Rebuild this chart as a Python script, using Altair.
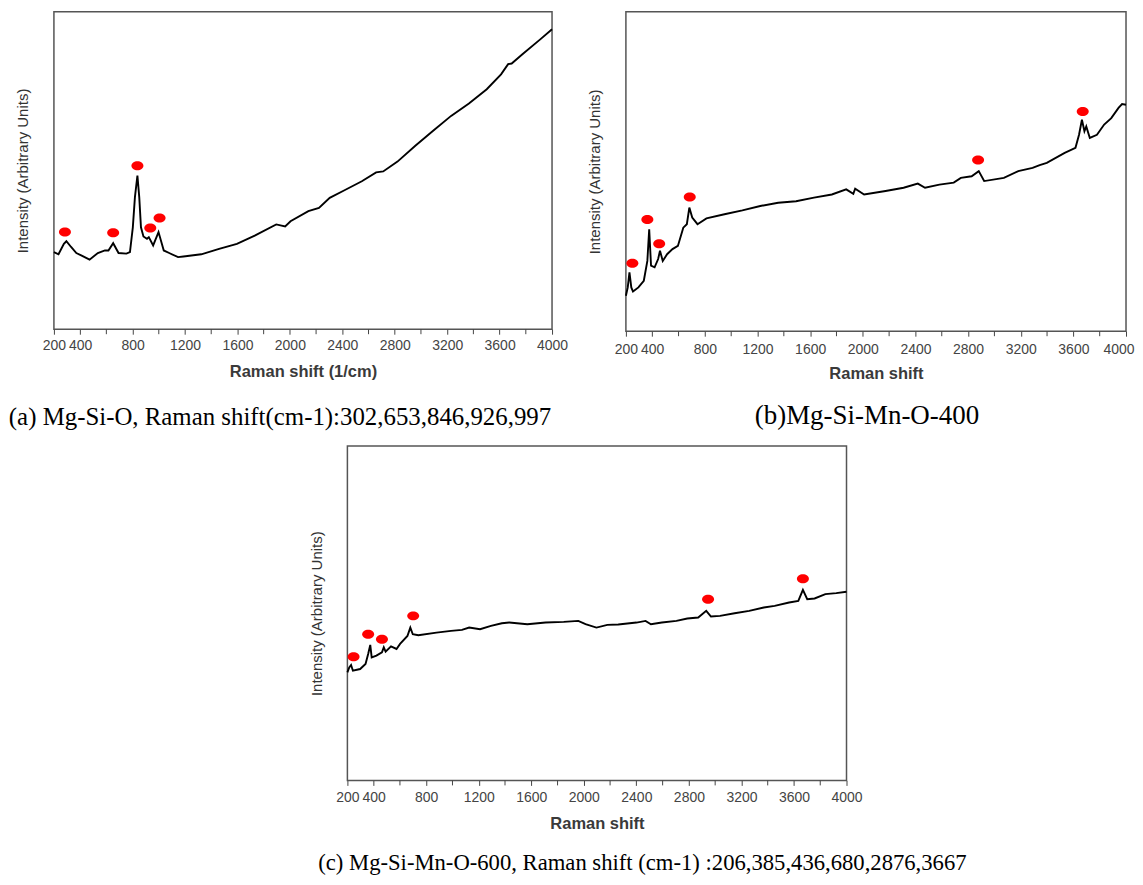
import altair as alt
import pandas as pd

# ---------------- data ----------------
# (a) Mg-Si-O
a_shift = [200, 235, 276, 295, 331, 371, 412, 472, 535, 589, 616, 652, 693, 753, 780,
           802, 818, 837, 851, 864, 883, 910, 924, 957, 998, 1038, 1079, 1147, 1188,
           1324, 1460, 1596, 1732, 1896, 1964, 2005, 2141, 2222, 2304, 2413, 2549,
           2658, 2712, 2821, 2957, 3093, 3230, 3366, 3502, 3611, 3665, 3692, 3774,
           3910, 4000]
a_int = [24.3, 23.6, 26.9, 27.7, 25.9, 24.0, 23.2, 21.9, 24.0, 24.8, 24.8, 27.1, 24.0,
         23.8, 24.3, 32.1, 41.6, 48.4, 41.6, 32.1, 29.2, 28.5, 29.0, 26.4, 30.6, 24.8,
         24.0, 22.7, 22.9, 23.6, 25.3, 26.9, 29.5, 33.0, 32.4, 34.0, 37.2, 38.2, 41.4,
         43.7, 46.6, 49.4, 49.7, 52.8, 57.8, 62.5, 67.2, 71.1, 75.6, 80.3, 83.5, 83.7,
         86.6, 91.3, 94.5]
a_peak_shift = [284, 652, 837, 935, 1006]
a_peak_int = [30.6, 30.4, 51.5, 31.9, 35.0]

# (b) Mg-Si-Mn-O-400
b_shift = [200, 214, 227, 241, 254, 295, 336, 363, 377, 391, 418, 445, 459, 480, 513,
           554, 595, 636, 663, 682, 704, 744, 812, 949, 1085, 1221, 1357, 1493, 1629,
           1765, 1874, 1928, 1942, 2010, 2173, 2310, 2418, 2473, 2582, 2691, 2745,
           2827, 2881, 2922, 3072, 3181, 3290, 3344, 3398, 3534, 3616, 3643, 3665,
           3684, 3698, 3725, 3779, 3834, 3888, 3943, 3970, 4000]
b_int = [11.1, 13.7, 18.4, 13.7, 12.4, 13.7, 15.8, 22.0, 31.9, 20.5, 20.0, 22.6, 25.2,
         22.0, 24.1, 25.7, 26.7, 32.4, 33.5, 38.7, 35.6, 33.5, 35.3, 36.6, 37.8, 39.2,
         40.2, 40.7, 41.8, 42.8, 44.4, 43.0, 44.6, 42.8, 43.9, 44.9, 46.2, 44.9, 45.9,
         46.5, 48.0, 48.5, 50.1, 47.0, 48.0, 50.1, 51.1, 52.0, 52.7, 55.8, 57.4, 61.5,
         66.2, 62.6, 64.1, 60.5, 61.5, 64.7, 66.7, 69.9, 71.1, 70.9]
b_peak_shift = [249, 363, 453, 685, 2876, 3671]
b_peak_int = [21.3, 35.0, 27.4, 42.0, 53.6, 68.8]

# (c) Mg-Si-Mn-O-600
c_shift = [200, 214, 228, 242, 297, 338, 358, 374, 385, 421, 463, 477, 491, 532, 574,
           601, 657, 679, 698, 740, 878, 989, 1072, 1127, 1210, 1293, 1376, 1432, 1570,
           1709, 1847, 1958, 2013, 2096, 2179, 2262, 2401, 2470, 2511, 2594, 2705,
           2788, 2871, 2932, 2968, 3037, 3148, 3259, 3370, 3453, 3563, 3633, 3668,
           3701, 3757, 3839, 3922, 4000]
c_int = [32.3, 33.8, 34.5, 32.8, 33.3, 34.8, 37.8, 40.5, 36.8, 37.3, 38.3, 39.8, 38.5,
         40.1, 39.3, 40.8, 43.2, 45.7, 43.7, 43.4, 44.2, 44.7, 45.0, 45.7, 45.2, 46.2,
         47.0, 47.2, 46.7, 47.2, 47.4, 47.7, 46.7, 45.7, 46.5, 46.6, 47.2, 47.7, 46.7,
         47.2, 47.7, 48.4, 48.7, 50.7, 49.0, 49.2, 50.0, 50.7, 51.7, 52.2, 53.2, 53.7,
         57.0, 54.2, 54.4, 55.7, 56.0, 56.4]
c_peak_shift = [247, 358, 463, 701, 2946, 3668]
c_peak_int = [37.0, 43.7, 42.2, 49.2, 54.2, 60.3]

major_ticks = [200, 400, 800, 1200, 1600, 2000, 2400, 2800, 3200, 3600, 4000]
minor_ticks = [600, 1000, 1400, 1800, 2200, 2600, 3000, 3400, 3800]
captions = [
    "(a) Mg-Si-O, Raman shift(cm-1):302,653,846,926,997",
    "(b)Mg-Si-Mn-O-400",
    "(c) Mg-Si-Mn-O-600, Raman shift (cm-1) :206,385,436,680,2876,3667",
]
x_titles = ["Raman shift (1/cm)", "Raman shift", "Raman shift"]

ELLIPSE = "M -1 0 A 1 0.75 0 1 0 1 0 A 1 0.75 0 1 0 -1 0 Z"
TICK_COLOR = "#444"


def panel(shift, inten, pk_x, pk_y, xtitle, caption, dx, w, h, cap_offset, cap_size,
          lab_pad, title_pad, pull_last):
    line_df = pd.DataFrame({"shift": shift, "intensity": inten})
    dot_df = pd.DataFrame({"shift": pk_x, "intensity": pk_y})
    minor_df = pd.DataFrame({"shift": minor_ticks})
    axis_kw = dict(
        values=major_ticks,
        format="d",
        title=xtitle,
        grid=False,
        domain=False,
        ticks=True,
        tickSize=5,
        tickColor=TICK_COLOR,
        tickWidth=1,
        labelPadding=lab_pad,
        labelOverlap=False,
        labelFlush=False,
        labelFont="Liberation Sans",
        labelFontSize=14,
        labelColor="#444",
        titleFont="Liberation Sans",
        titleFontSize=16.5,
        titleFontWeight="bold",
        titleColor="#3a3a3a",
        titlePadding=title_pad,
    )
    if pull_last:
        # keep the last label inside the page edge
        axis_kw.update(
            labelAlign={"condition": {"test": "datum.value == 4000", "value": "right"},
                        "value": "center"},
            labelOffset={"condition": {"test": "datum.value == 4000", "value": 8},
                         "value": 0},
        )
    xenc = alt.X(
        "shift:Q",
        scale=alt.Scale(domain=[200, 4000], nice=False, zero=False),
        axis=alt.Axis(**axis_kw),
    )
    yenc = alt.Y(
        "intensity:Q",
        scale=alt.Scale(domain=[0, 100], nice=False, zero=False),
        axis=alt.Axis(
            labels=False,
            ticks=False,
            domain=False,
            grid=False,
            title="Intensity (Arbitrary Units)",
            titleFont="Liberation Sans",
            titleFontSize=15,
            titleFontWeight="normal",
            titleColor="#333",
            titlePadding=23,
        ),
    )
    line = alt.Chart(line_df).mark_line(color="black", strokeWidth=1.9).encode(x=xenc, y=yenc)
    minor = alt.Chart(minor_df).mark_rule(color=TICK_COLOR, strokeWidth=1).encode(
        x="shift:Q", y=alt.value(h), y2=alt.value(h + 5)
    )
    dots = alt.Chart(dot_df).mark_point(
        shape=ELLIPSE, filled=True, color="#ff0000", size=144, opacity=1
    ).encode(x="shift:Q", y="intensity:Q")
    return alt.layer(line, minor, dots).properties(
        width=w,
        height=h,
        title=alt.TitleParams(
            text=caption,
            orient="bottom",
            anchor="middle",
            frame="group",
            font="Liberation Serif",
            fontSize=cap_size,
            fontWeight="normal",
            color="black",
            offset=cap_offset,
            dx=dx,
        ),
    )


pa = panel(a_shift, a_int, a_peak_shift, a_peak_int, x_titles[0], captions[0], -23, 499, 318, 25, 24.9, 4, 11, False)
pb = panel(b_shift, b_int, b_peak_shift, b_peak_int, x_titles[1], captions[1], -9, 501, 320, 21, 27, 6, 9, True)
pc = panel(c_shift, c_int, c_peak_shift, c_peak_int, x_titles[2], captions[2], 45.5, 500, 335, 20, 22.7, 5, 11, False)

spacer = alt.Chart(pd.DataFrame({"v": [0]})).mark_point(opacity=0).encode(
    x=alt.X("v:Q", axis=None), y=alt.Y("v:Q", axis=None)
).properties(width=200, height=10, view=alt.ViewBackground(stroke="transparent"))

row1 = alt.hconcat(pa, pb, spacing=74, bounds="flush")
row2 = alt.hconcat(spacer, pc, spacing=94, bounds="flush")

chart = alt.vconcat(row1, row2, spacing=14).configure_view(
    stroke="#555", strokeWidth=1.5
).properties(
    background="white",
    padding={"left": 0, "top": 2, "right": 0, "bottom": 0},
)

chart.save("out.html", embed_options={"renderer": "svg", "actions": False})
